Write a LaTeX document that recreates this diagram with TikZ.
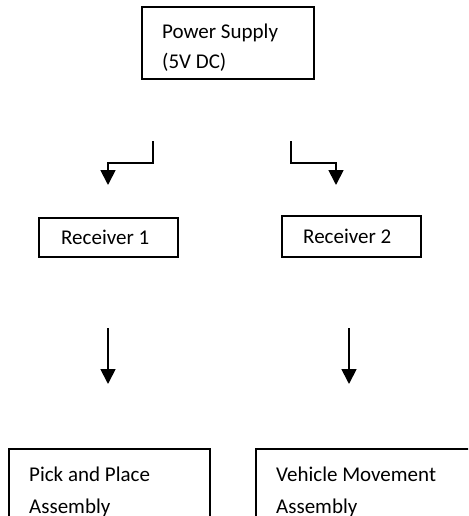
\documentclass[tikz,border=0pt]{standalone}
\usepackage{fontspec}
\setmainfont{Carlito}
\usetikzlibrary{arrows.meta}
\begin{document}
\begin{tikzpicture}[x=1pt,y=-1pt,
  boxnode/.style={draw=black,line width=1.8pt,anchor=north west,inner sep=0pt},
  txt/.style={anchor=west,align=left,inner sep=0pt,font=\fontsize{21}{30}\selectfont},
  conn/.style={line width=1.8pt,-{Triangle[width=15pt,length=15pt]}}]
\useasboundingbox (0,0) rectangle (468,516);
\clip (0,0) rectangle (468,516);
% boxes
\node[boxnode,minimum width=172,minimum height=72] (ps) at (141,6) {};
\node[txt] (pst) at (162,48) {Power Supply\\(5V DC)};
\node[boxnode,minimum width=139,minimum height=39] (r1) at (38,217) {};
\node[txt] (r1t) at (61,237) {Receiver 1};
\node[boxnode,minimum width=139,minimum height=41] (r2) at (281,215) {};
\node[txt] (r2t) at (303,236) {Receiver 2};
\node[boxnode,minimum width=201,minimum height=100] (pp) at (8,448) {};
\node[txt,font=\fontsize{21}{32}\selectfont] (ppt) at (29,492) {Pick and Place\\Assembly};
\node[boxnode,minimum width=240,minimum height=100] (vm) at (255,448) {};
\node[txt,font=\fontsize{21}{32}\selectfont] (vmt) at (276,492) {Vehicle Movement\\Assembly};
% connector end points
\coordinate (a1s) at (153,141);
\coordinate (a1e) at (108,185);
\coordinate (a2s) at (291,141);
\coordinate (a2e) at (336,185);
\coordinate (a3s) at (108,328);
\coordinate (a3e) at (108,384);
\coordinate (a4s) at (349,328);
\coordinate (a4e) at (349,384);
% connectors
\draw[conn] (a1s) |- (108,163) -- (a1e);
\draw[conn] (a2s) |- (336,163) -- (a2e);
\draw[conn] (a3s) -- (a3e);
\draw[conn] (a4s) -- (a4e);
\end{tikzpicture}
\end{document}
